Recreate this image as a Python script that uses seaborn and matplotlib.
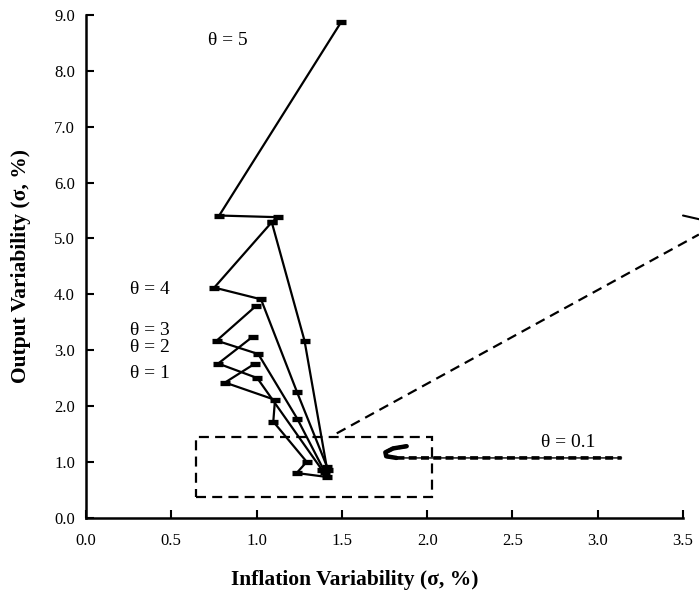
import matplotlib
matplotlib.use("Agg")
import matplotlib.pyplot as plt
import seaborn as sns
import pandas as pd
from matplotlib.patches import Rectangle
from matplotlib.ticker import FormatStrFormatter

# ---- data ----
theta5_x = [1.495, 0.781, 1.127, 1.089, 1.281, 1.411]
theta5_y = [8.87, 5.41, 5.38, 5.29, 3.17, 0.91]
theta4_x = [1.089, 0.752, 1.026, 1.237, 1.420]
theta4_y = [5.29, 4.12, 3.91, 2.25, 0.86]
theta3_x = [0.996, 0.766, 1.010, 1.239, 1.400]
theta3_y = [3.79, 3.17, 2.93, 1.77, 0.82]
theta2_x = [0.977, 0.775, 1.004, 1.385]
theta2_y = [3.24, 2.76, 2.50, 0.85]
theta1_x = [0.991, 0.815, 1.108, 1.098, 1.294, 1.235, 1.411]
theta1_y = [2.76, 2.42, 2.11, 1.72, 1.00, 0.80, 0.73]
theta01_x = [1.880, 1.800, 1.755, 1.760, 1.820, 3.140]
theta01_y = [1.28, 1.24, 1.17, 1.10, 1.07, 1.07]

zoom_box_x = [0.645, 2.026]
zoom_box_y = [0.365, 1.44]
pointer_x = [1.47, 3.593]
pointer_y = [1.51, 5.07]
inset_edge_x = [3.50, 3.60]
inset_edge_y = [5.41, 5.34]

label_text = ["θ = 5", "θ = 4", "θ = 3", "θ = 2", "θ = 1", "θ = 0.1"]
label_x = [0.715, 0.258, 0.258, 0.258, 0.258, 2.667]
label_y = [8.55, 4.09, 3.36, 3.04, 2.59, 1.34]

x_ticks = [0.0, 0.5, 1.0, 1.5, 2.0, 2.5, 3.0, 3.5]
y_ticks = [0, 1, 2, 3, 4, 5, 6, 7, 8, 9]

# ---- style ----
sns.set_theme(style="ticks")
plt.rcParams["font.family"] = ["Liberation Serif", "DejaVu Serif"]

fig = plt.figure(figsize=(6.99, 6.0), dpi=100)
ax = fig.add_axes([86 / 699, 1 - 517.7 / 600, (683 - 86) / 699, (517.7 - 15) / 600])

series = [(theta5_x, theta5_y), (theta4_x, theta4_y), (theta3_x, theta3_y),
          (theta2_x, theta2_y), (theta1_x, theta1_y)]
for sx, sy in series:
    df = pd.DataFrame({"x": sx, "y": sy})
    sns.lineplot(data=df, x="x", y="y", sort=False, estimator=None, ax=ax,
                 color="black", lw=1.6, marker="_", markersize=7,
                 markeredgewidth=3.8, markeredgecolor="black")

# theta = 0.1 : thin line with thick dashes
df01 = pd.DataFrame({"x": theta01_x, "y": theta01_y})
sns.lineplot(data=df01, x="x", y="y", sort=False, estimator=None, ax=ax,
             color="black", lw=1.0)
sns.lineplot(data=df01, x="x", y="y", sort=False, estimator=None, ax=ax,
             color="black", lw=2.6, linestyle=(0, (2.2, 1.2)))
df01_head = pd.DataFrame({"x": theta01_x[:5], "y": theta01_y[:5]})
sns.lineplot(data=df01_head, x="x", y="y", sort=False, estimator=None, ax=ax,
             color="black", lw=3.2, solid_capstyle="round")

# dashed zoom box
ax.add_patch(Rectangle((zoom_box_x[0], zoom_box_y[0]),
                       zoom_box_x[1] - zoom_box_x[0], zoom_box_y[1] - zoom_box_y[0],
                       fill=False, edgecolor="black", lw=1.6,
                       linestyle=(0, (4.5, 2.8))))
# dashed pointer line to inset (cut at figure edge)
ax.plot(pointer_x, pointer_y, color="black", lw=1.6, linestyle=(0, (4.5, 2.8)),
        clip_on=False)
ax.plot(inset_edge_x, inset_edge_y, color="black", lw=1.5, clip_on=False)

for t, tx, ty in zip(label_text, label_x, label_y):
    ax.text(tx, ty, t, fontsize=14, ha="left", va="center", color="black")

ax.set_xlim(0, 3.5)
ax.set_ylim(0, 9)
ax.set_xticks(x_ticks)
ax.set_yticks(y_ticks)
ax.xaxis.set_major_formatter(FormatStrFormatter("%.1f"))
ax.yaxis.set_major_formatter(FormatStrFormatter("%.1f"))
ax.tick_params(axis="both", direction="in", length=6, width=1.5,
               labelsize=12, colors="black", labelcolor="black")
ax.tick_params(axis="x", pad=11)
ax.tick_params(axis="y", pad=8)
for s in ["top", "right"]:
    ax.spines[s].set_visible(False)
for s in ["left", "bottom"]:
    ax.spines[s].set_linewidth(1.8)
    ax.spines[s].set_color("black")

ax.set_xlabel("Inflation Variability (σ, %)", fontsize=15.5, fontweight="bold",
              color="black")
ax.set_ylabel("Output Variability (σ, %)", fontsize=15.5, fontweight="bold",
              color="black")
ax.xaxis.set_label_coords((355 - 86) / 597, (517.7 - 570) / 502.7)
ax.yaxis.set_label_coords((31 - 86) / 597, (517.7 - 266) / 502.7)

fig.savefig("out.png", dpi=100)
